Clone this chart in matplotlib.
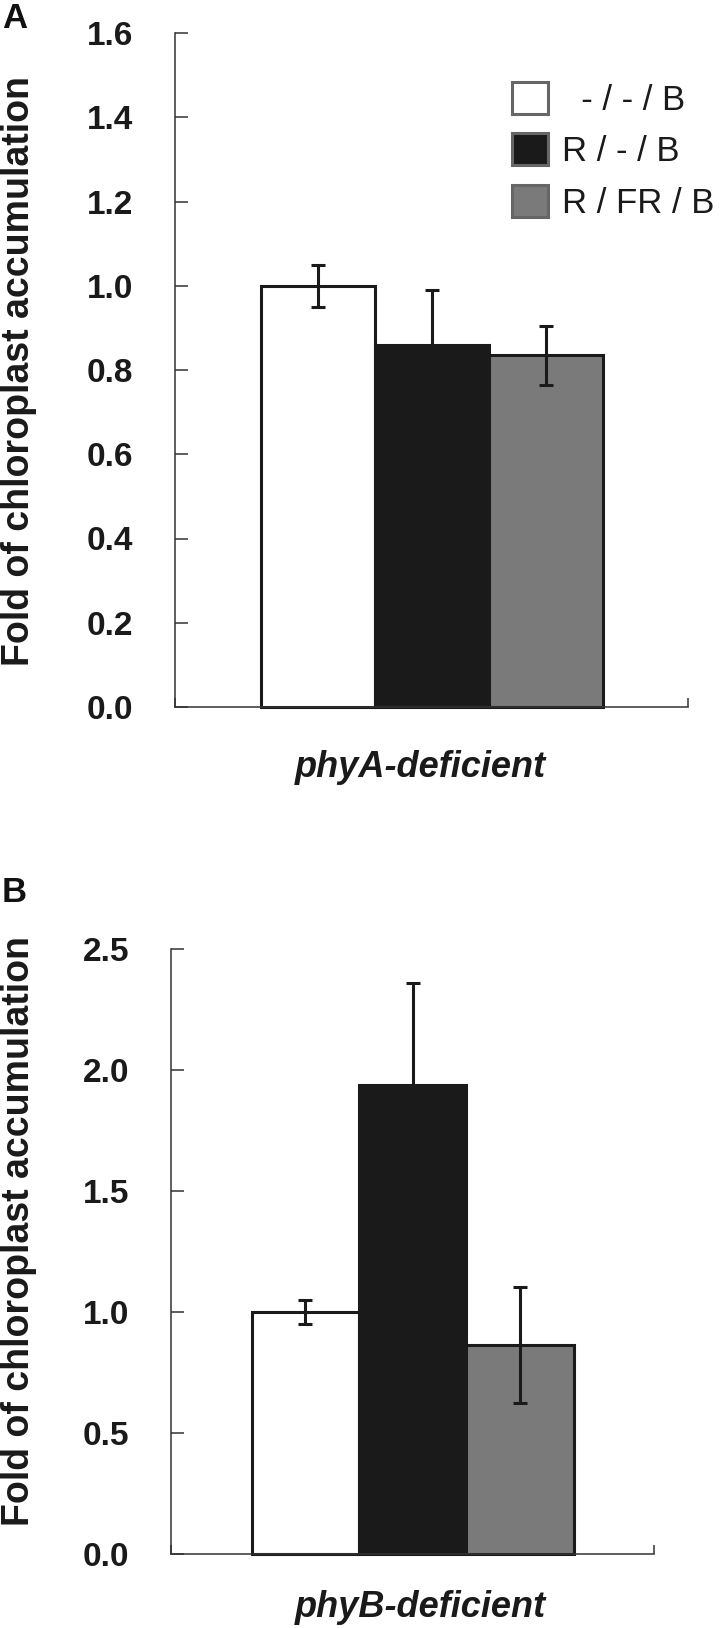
import matplotlib
matplotlib.use("Agg")
import matplotlib.pyplot as plt
from matplotlib.patches import Patch
import numpy as np

plt.rcParams['font.family'] = ['Liberation Sans', 'DejaVu Sans']

# behandlingar och färger
behandlingar = ["  - / - / B", "R / - / B", "R / FR / B"]
farger = ["#ffffff", "#1a1a1a", "#7a7a7a"]

# panel A: phyA-deficient
medel_a = [1.00, 0.86, 0.835]
fel_a = [0.05, 0.13, 0.07]
ticks_a = [0.0, 0.2, 0.4, 0.6, 0.8, 1.0, 1.2, 1.4, 1.6]

# panel B: phyB-deficient
medel_b = [1.00, 1.94, 0.865]
fel_b = [0.05, 0.42, 0.24]
ticks_b = [0.0, 0.5, 1.0, 1.5, 2.0, 2.5]

W, H = 722, 1628
fig = plt.figure(figsize=(W / 100, H / 100), dpi=100)


def px(x, y):
    return x / W, 1 - y / H


def rita(ax, medel, fel, yticks):
    x = np.arange(len(medel)) - 1
    ax.bar(x, medel, width=1.0, color=farger, edgecolor="#1a1a1a",
           linewidth=2.2, zorder=2, clip_on=False)
    ax.errorbar(x, medel, yerr=fel, fmt="none", ecolor="#1a1a1a",
                elinewidth=2.2, capsize=4.7, capthick=2.2, zorder=3)
    ax.set_xlim(-2.25, 2.25)
    ax.set_ylim(0, yticks[-1])
    ax.set_yticks(yticks)
    ax.set_yticklabels([f"{t:.1f}" for t in yticks])
    ax.set_xticks([-2.25, 2.25])
    ax.set_xticklabels([])
    for s in ["top", "right"]:
        ax.spines[s].set_visible(False)
    for s in ["left", "bottom"]:
        ax.spines[s].set_color("#333333")
        ax.spines[s].set_linewidth(1.1)
    ax.tick_params(axis="y", direction="in", length=9, width=1.1,
                   color="#333333", pad=30, labelsize=24, labelcolor="#1a1a1a")
    ax.tick_params(axis="x", direction="in", length=6.5, width=1.1,
                   color="#333333")
    for t in ax.get_yticklabels():
        t.set_fontweight("bold")


# panel A
axa = fig.add_axes([175 / W, 1 - 707 / H, (688 - 175) / W, (707 - 33) / H])
rita(axa, medel_a, fel_a, ticks_a)

# panel B
axb = fig.add_axes([171 / W, 1 - 1554 / H, (654 - 171) / W, (1554 - 949) / H])
rita(axb, medel_b, fel_b, ticks_b)

# y-etiketter
ylabel = "Fold of chloroplast accumulation"
fig.text(*px(1, 371), ylabel, rotation=90, ha="left", va="center",
         fontsize=27, fontweight="bold", color="#1a1a1a")
fig.text(*px(1, 1231), ylabel, rotation=90, ha="left", va="center",
         fontsize=27, fontweight="bold", color="#1a1a1a")

# x-etiketter
fig.text(*px(420, 777), "phyA-deficient", ha="center", va="baseline",
         fontsize=26, fontweight="bold", fontstyle="italic", color="#1a1a1a")
fig.text(*px(420, 1617), "phyB-deficient", ha="center", va="baseline",
         fontsize=26, fontweight="bold", fontstyle="italic", color="#1a1a1a")

# panelbokstäver
fig.text(*px(2, 28), "A", ha="left", va="baseline", fontsize=25,
         fontweight="bold", color="#111111")
fig.text(*px(2, 902), "B", ha="left", va="baseline", fontsize=25,
         fontweight="bold", color="#111111")

# legend
handtag = [Patch(facecolor=c, edgecolor="#666666", linewidth=2.2) for c in farger]
leg = fig.legend(handtag, behandlingar, loc="upper left",
                 bbox_to_anchor=px(512, 82), frameon=False, fontsize=25,
                 handlelength=1.03, handleheight=1.03, handletextpad=0.42,
                 labelspacing=0.48, borderpad=0, borderaxespad=0)
for t in leg.get_texts():
    t.set_color("#1a1a1a")

fig.savefig("out.png", dpi=100)
